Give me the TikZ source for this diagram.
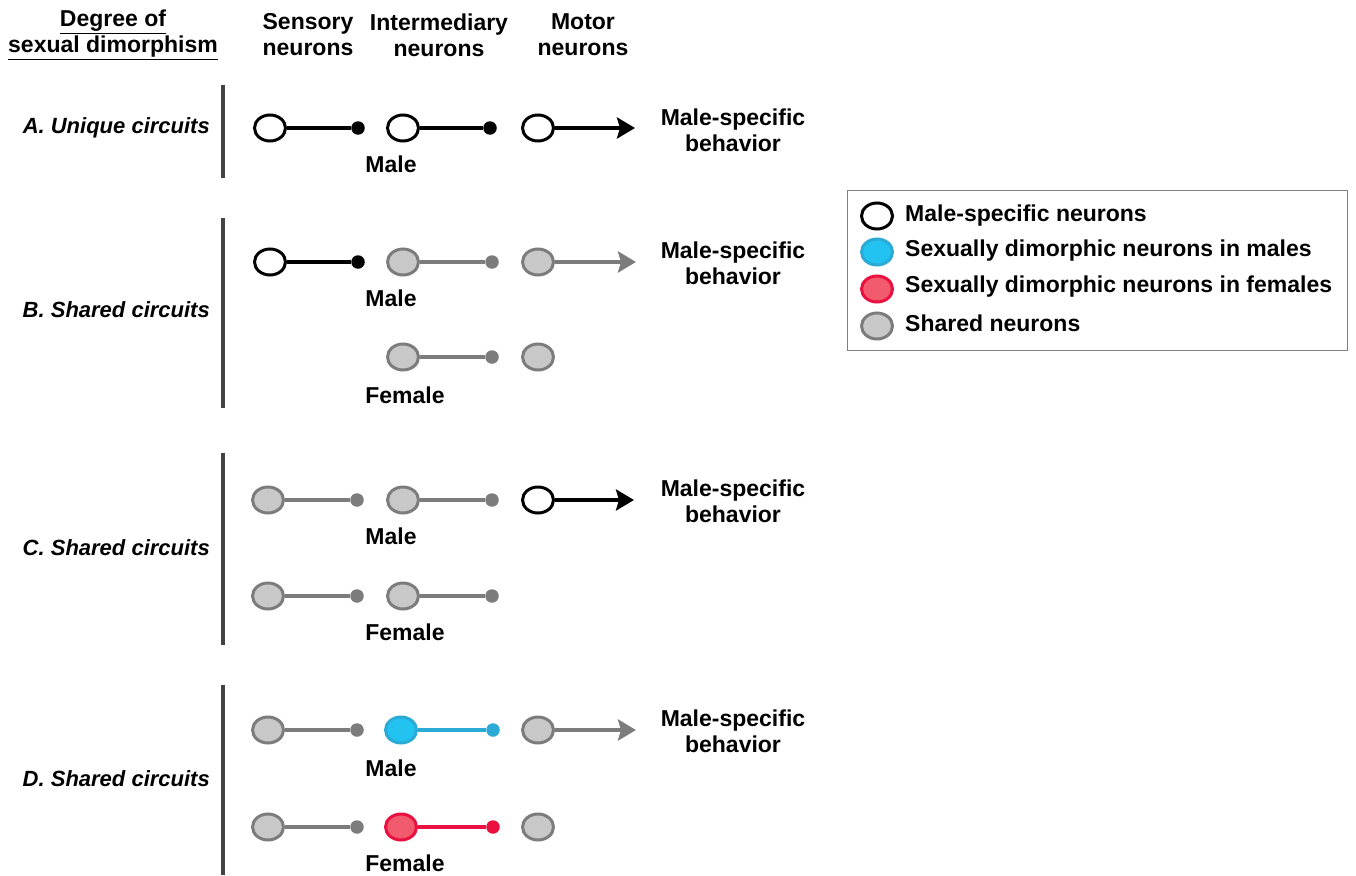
\documentclass[tikz,border=0pt]{standalone}
\usepackage{fontspec}
\setmainfont{Liberation Sans}
\usetikzlibrary{shapes.geometric, arrows.meta, positioning}
\definecolor{shfill}{HTML}{C8C8C8}
\definecolor{shdraw}{HTML}{7C7C7C}
\definecolor{mfill}{HTML}{22C3F0}
\definecolor{mdraw}{HTML}{2AAAD4}
\definecolor{ffill}{HTML}{F25A6E}
\definecolor{fdraw}{HTML}{EA1040}
\definecolor{barcol}{HTML}{444444}
\tikzset{
    neuron/.style={ellipse, draw, line width=3pt, minimum width=31pt, minimum height=26pt, inner sep=0pt},
    malespec/.style={neuron, draw=black, fill=white},
    shared/.style={neuron, draw=shdraw, fill=shfill},
    dimm/.style={neuron, draw=mdraw, fill=mfill},
    dimf/.style={neuron, draw=fdraw, fill=ffill},
    syn/.style={circle, inner sep=0pt, minimum size=13.5pt},
    axon/.style={line width=4pt},
    outarrow/.style={-{Stealth[length=18pt, width=21pt, inset=3pt]}},
    txt/.style={font=\fontsize{23}{26}\selectfont\bfseries, align=center, inner sep=0pt},
    rowlab/.style={font=\fontsize{22}{26}\selectfont\bfseries\itshape, anchor=east, inner sep=0pt},
    sexbar/.style={line width=4pt, draw=barcol}
}

\begin{document}
\begin{tikzpicture}[x=1pt, y=-1pt]
\useasboundingbox (0,0) rectangle (1356,875);

% column headings
\node[txt] (deg) at (113,35) {\underline{Degree of}\\\underline{sexual dimorphism}};
\node[txt] (hsen) at (308,35) {Sensory\\neurons};
\node[txt] (hint) at (439,35) {Intermediary\\neurons};
\node[txt] (hmot) at (583,35) {Motor\\neurons};

% A. unique circuits
\draw[sexbar] (223,85) -- (223,178);
\node[rowlab] (alab) at (210,128) {A. Unique circuits};
\node[malespec] (asen) at (270,128) {};
\node[syn, fill=black] (asyn1) at (358,128) {};
\node[malespec] (aint) at (403,128) {};
\node[syn, fill=black] (asyn2) at (490,128) {};
\node[malespec] (amot) at (538,128) {};
\coordinate (aend) at (635,128);
\draw[axon] (asen) -- (asyn1);
\draw[axon] (aint) -- (asyn2);
\draw[axon, outarrow] (amot) -- (aend);
\node[txt] (abeh) at (733,130) {Male-specific\\behavior};
\node[txt] (amale) at (391,164) {Male};

% B. shared circuits, male-specific sensory neuron
\draw[sexbar] (223,218) -- (223,408);
\node[rowlab] (blab) at (210,310) {B. Shared circuits};
\node[malespec] (bsen) at (270,262) {};
\node[syn, fill=black] (bsyn1) at (358,262) {};
\node[shared] (bint) at (403,262) {};
\node[syn, fill=shdraw] (bsyn2) at (492,262) {};
\node[shared] (bmot) at (538,262) {};
\coordinate (bend) at (636,262);
\draw[axon] (bsen) -- (bsyn1);
\draw[axon, shdraw] (bint) -- (bsyn2);
\draw[axon, shdraw, outarrow] (bmot) -- (bend);
\node[txt] (bbeh) at (733,263) {Male-specific\\behavior};
\node[txt] (bmale) at (391,298) {Male};
\node[shared] (bfint) at (403,357) {};
\node[syn, fill=shdraw] (bfsyn) at (492,357) {};
\node[shared] (bfmot) at (538,357) {};
\draw[axon, shdraw] (bfint) -- (bfsyn);
\node[txt] (bfem) at (405,395) {Female};

% C. shared circuits, male-specific motor neuron
\draw[sexbar] (223,453) -- (223,645);
\node[rowlab] (clab) at (210,548) {C. Shared circuits};
\node[shared] (csen) at (268,500) {};
\node[syn, fill=shdraw] (csyn1) at (357,500) {};
\node[shared] (cint) at (403,500) {};
\node[syn, fill=shdraw] (csyn2) at (492,500) {};
\node[malespec] (cmot) at (538,500) {};
\coordinate (cend) at (634,500);
\draw[axon, shdraw] (csen) -- (csyn1);
\draw[axon, shdraw] (cint) -- (csyn2);
\draw[axon, outarrow] (cmot) -- (cend);
\node[txt] (cbeh) at (733,501) {Male-specific\\behavior};
\node[txt] (cmale) at (391,536) {Male};
\node[shared] (cfsen) at (268,596) {};
\node[syn, fill=shdraw] (cfsyn1) at (357,596) {};
\node[shared] (cfint) at (403,596) {};
\node[syn, fill=shdraw] (cfsyn2) at (492,596) {};
\draw[axon, shdraw] (cfsen) -- (cfsyn1);
\draw[axon, shdraw] (cfint) -- (cfsyn2);
\node[txt] (cfem) at (405,632) {Female};

% D. shared circuits, dimorphic intermediary neurons
\draw[sexbar] (223,685) -- (223,875);
\node[rowlab] (dlab) at (210,779) {D. Shared circuits};
\node[shared] (dsen) at (268,730) {};
\node[syn, fill=shdraw] (dsyn1) at (357,730) {};
\node[dimm] (dint) at (401,730) {};
\node[syn, fill=mdraw] (dsyn2) at (493,730) {};
\node[shared] (dmot) at (538,730) {};
\coordinate (dend) at (636,730);
\draw[axon, shdraw] (dsen) -- (dsyn1);
\draw[axon, mdraw] (dint) -- (dsyn2);
\draw[axon, shdraw, outarrow] (dmot) -- (dend);
\node[txt] (dbeh) at (733,731) {Male-specific\\behavior};
\node[txt] (dmale) at (391,768) {Male};
\node[shared] (dfsen) at (268,827) {};
\node[syn, fill=shdraw] (dfsyn1) at (357,827) {};
\node[dimf] (dfint) at (401,827) {};
\node[syn, fill=fdraw] (dfsyn2) at (493,827) {};
\node[shared] (dfmot) at (538,827) {};
\draw[axon, shdraw] (dfsen) -- (dfsyn1);
\draw[axon, fdraw] (dfint) -- (dfsyn2);
\node[txt] (dfem) at (405,863) {Female};

% legend
\node[draw=gray, line width=1.2pt, minimum width=500pt, minimum height=160pt, anchor=north west, inner sep=0pt] (key) at (847,190) {};
\node[malespec] (k1) at (877,216) {};
\node[txt, anchor=west] (k1t) at (905,216) {Male-specific neurons};
\node[dimm] (k2) at (877,252) {};
\node[txt, anchor=west] (k2t) at (905,251) {Sexually dimorphic neurons in males};
\node[dimf] (k3) at (877,289) {};
\node[txt, anchor=west] (k3t) at (905,287) {Sexually dimorphic neurons in females};
\node[shared] (k4) at (877,326) {};
\node[txt, anchor=west] (k4t) at (905,323) {Shared neurons};
\end{tikzpicture}
\end{document}
